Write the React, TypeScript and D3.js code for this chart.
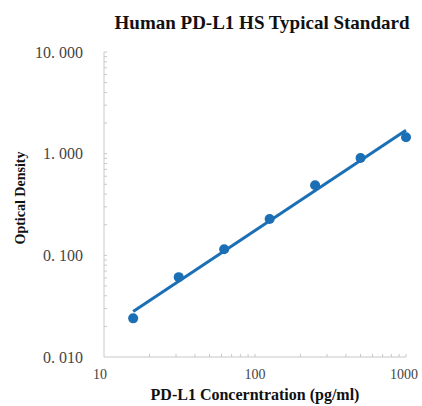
import * as d3 from "d3";

// standard curve points
const concentrations = [15.6, 31.25, 62.5, 125, 250, 500, 1000];
const odValues = [0.024, 0.061, 0.115, 0.228, 0.49, 0.905, 1.45];

// fitted line ends (log-log straight line)
const fitX = [15.6, 1000];
const fitY = [0.028, 1.7];

const xTickValues = [10, 100, 1000];
const yTickValues = [0.01, 0.1, 1, 10];
const yTickLabels = ["0. 010", "0. 100", "1. 000", "10. 000"];

const App = () => {
  const width = 422;
  const height = 406;
  const marginLeft = 104;
  const marginRight = 16;
  const marginTop = 52;
  const marginBottom = 49;

  const x = d3.scaleLog().domain([10, 1000]).range([marginLeft, width - marginRight]);
  const y = d3.scaleLog().domain([0.01, 10]).range([height - marginBottom, marginTop]);

  const blue = "#1b6fb5";
  const axisColor = "#c8c8c8";

  // minor log ticks
  const xMinor = x.ticks().filter(t => t > 10);
  const yMinor = y.ticks().filter(t => t > 0.01);

  const fitLine = d3.line<number>()
    .x((d, i) => x(fitX[i]))
    .y(d => y(d));

  return (
    <svg width={width} height={height} style={{ position: "absolute", left: 0, top: 0 }}>
      <rect width={width} height={height} fill="#fff" />
      <text x={262} y={29} textAnchor="middle" fontFamily="Liberation Serif" fontWeight="bold" fontSize={19} fill="#111">
        Human PD-L1 HS Typical Standard
      </text>

      {/* axes */}
      <line x1={marginLeft} x2={marginLeft} y1={y(10)} y2={y(0.01)} stroke={axisColor} />
      <line x1={marginLeft} x2={x(1000)} y1={y(0.01)} y2={y(0.01)} stroke={axisColor} />
      {yMinor.map((t, i) => (
        <line key={"ym" + i} x1={marginLeft} x2={marginLeft + 3} y1={y(t)} y2={y(t)} stroke={axisColor} />
      ))}
      {xMinor.map((t, i) => (
        <line key={"xm" + i} x1={x(t)} x2={x(t)} y1={y(0.01)} y2={y(0.01) - 3} stroke={axisColor} />
      ))}

      {yTickValues.map((t, i) => (
        <text key={"yl" + i} x={83} y={y(t)} dy="0.35em" textAnchor="end" fontFamily="Liberation Serif" fontSize={16} fill="#444">
          {yTickLabels[i]}
        </text>
      ))}
      {xTickValues.map((t, i) => (
        <text key={"xl" + i} x={x(t) - (i === 2 ? 2 : i === 0 ? 4 : 0)} y={379} textAnchor="middle" fontFamily="Liberation Serif" fontSize={14} fill="#444">
          {t}
        </text>
      ))}

      <text x={255} y={400} textAnchor="middle" fontFamily="Liberation Serif" fontWeight="bold" fontSize={16} fill="#111">
        PD-L1 Concerntration (pg/ml)
      </text>
      <text transform="translate(25,198) rotate(-90)" textAnchor="middle" fontFamily="Liberation Serif" fontWeight="bold" fontSize={14} fill="#111">
        Optical Density
      </text>

      <path d={fitLine(fitY) || ""} fill="none" stroke={blue} strokeWidth={3} />
      {concentrations.map((c, i) => (
        <circle key={"p" + i} cx={x(c)} cy={y(odValues[i])} r={5} fill={blue} />
      ))}
    </svg>
  );
};

export default App;
